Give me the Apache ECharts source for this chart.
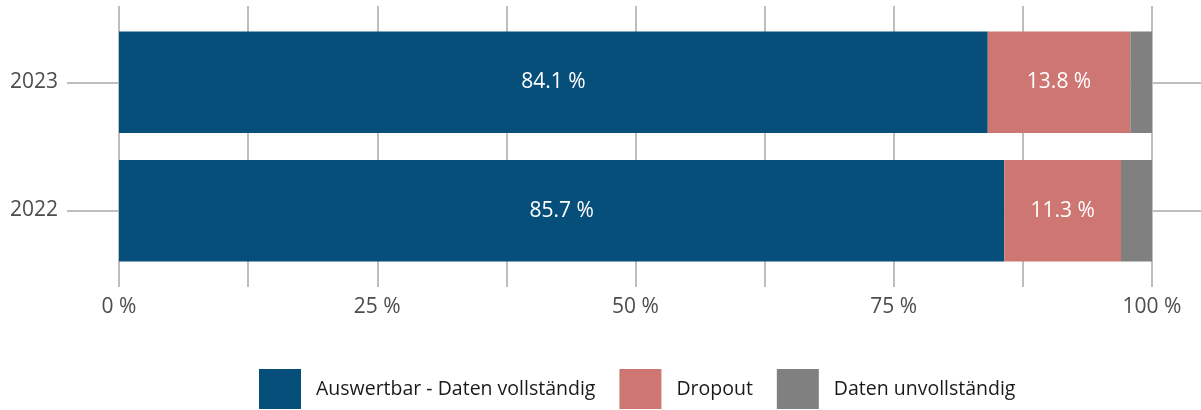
<!DOCTYPE html>
<html>
<head>
<meta charset="utf-8">
<script src="https://cdn.jsdelivr.net/npm/echarts@6/dist/echarts.min.js"></script>
<style>
  html, body { margin: 0; padding: 0; background: #fff; }
  #chart { width: 1201px; height: 410px; }
</style>
</head>
<body>
<div id="chart"></div>
<script>
// Jahre (unten -> oben)
const years = ['2022', '2023'];
// Anteile in Prozent
const auswertbar = [85.7, 84.1];
const dropout = [11.3, 13.8];
const unvollstaendig = [3.0, 2.1];

const seriesNames = ['Auswertbar - Daten vollständig', 'Dropout', 'Daten unvollständig'];
const colors = ['#064f7b', '#cd7672', '#808080'];

const font = 'Open Sans';
const gridColor = '#bebebe';

const chart = echarts.init(document.getElementById('chart'));

function barSeries(name, data, color, showLabel) {
  return {
    name: name,
    type: 'bar',
    stack: 'total',
    xAxisIndex: 2,
    yAxisIndex: 2,
    barCategoryGap: '21%',
    data: data,
    itemStyle: { color: color },
    label: {
      show: showLabel,
      position: 'inside',
      color: '#fff',
      fontFamily: font,
      fontSize: 21,
      formatter: function (p) { return p.value.toFixed(1) + ' %'; }
    },
    emphasis: { disabled: true }
  };
}

chart.setOption({
  animation: false,
  textStyle: { fontFamily: font },
  legend: {
    bottom: -4,
    left: 254,
    itemWidth: 42,
    itemHeight: 40,
    itemGap: 24,
    icon: 'rect',
    data: seriesNames,
    textStyle: { color: '#1a1a1a', fontSize: 19.5, fontFamily: font, padding: [0, 0, 0, 10] }
  },
  grid: [
    // horizontale Linien + Jahres-Beschriftung
    { left: 67, top: 82.5, width: 1140, height: 128 },
    // vertikale Linien + Prozent-Achse
    { left: 119, top: 6, width: 1033, height: 281 },
    // Balken
    { left: 119, top: 18, width: 1033, height: 257 }
  ],
  xAxis: [
    { gridIndex: 0, type: 'value', show: false },
    {
      gridIndex: 1, type: 'value', min: 0, max: 100, interval: 12.5,
      axisLine: { show: false },
      axisTick: { show: false },
      splitLine: { show: true, lineStyle: { color: gridColor, width: 2 } },
      axisLabel: {
        color: '#4d4d4d', fontSize: 21, fontFamily: font, margin: 10,
        formatter: function (v) { return v % 25 === 0 ? v + ' %' : ''; }
      }
    },
    { gridIndex: 2, type: 'value', min: 0, max: 100, show: false }
  ],
  yAxis: [
    {
      gridIndex: 0, type: 'category', data: years, boundaryGap: false,
      axisLine: { show: false },
      axisTick: { show: false },
      splitLine: { show: true, lineStyle: { color: gridColor, width: 2 } },
      axisLabel: { color: '#4d4d4d', fontSize: 21, fontFamily: font, margin: 9 }
    },
    { gridIndex: 1, type: 'value', show: false },
    { gridIndex: 2, type: 'category', data: years, show: false }
  ],
  series: [
    barSeries(seriesNames[0], auswertbar, colors[0], true),
    barSeries(seriesNames[1], dropout, colors[1], true),
    barSeries(seriesNames[2], unvollstaendig, colors[2], false)
  ]
});
</script>
</body>
</html>
